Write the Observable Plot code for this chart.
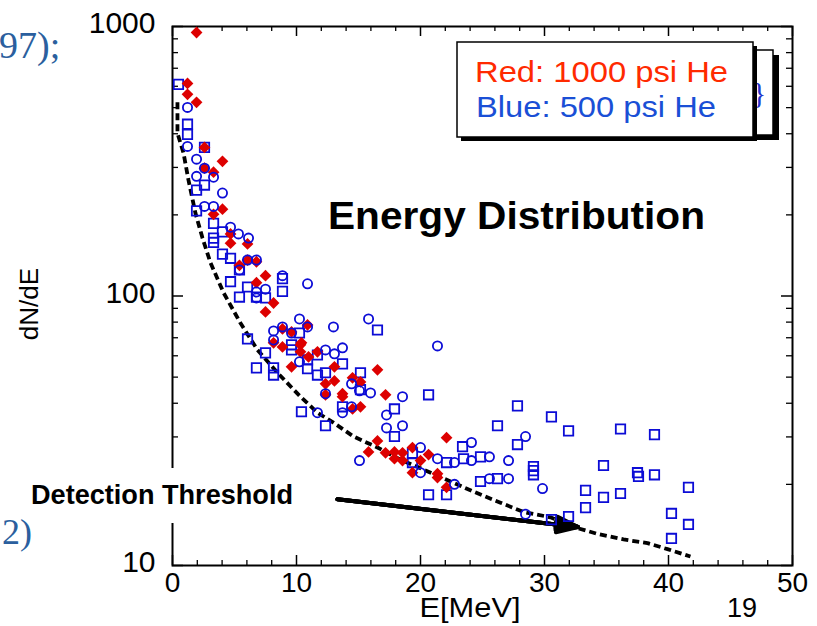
<!DOCTYPE html>
<html>
<head>
<meta charset="utf-8">
<script src="https://cdn.jsdelivr.net/npm/d3@7"></script>
<script src="https://cdn.jsdelivr.net/npm/@observablehq/plot@0.6"></script>
<style>
  html, body { margin: 0; padding: 0; background: #fff; }
  #wrap { position: relative; width: 817px; height: 626px; overflow: hidden; font-family: "Liberation Sans", Arial, sans-serif; }
  #wrap > svg { position: absolute; left: 0; top: 0; }
  #ov { pointer-events: none; }
</style>
</head>
<body>
<div id="wrap"></div>
<script>
// ---- Data ----
// Red diamonds: 1000 psi He
const redE = [1.94,1.21,1.21,1.94,2.58,4.03,2.58,3.31,4.03,3.31,4.68,4.68,6.05,6.05,6.77,5.40,7.50,6.77,8.15,7.50,10.89,8.87,9.60,8.15,8.87,10.32,10.32,10.97,11.69,9.60,13.06,13.06,12.34,14.52,15.16,12.34,13.71,13.71,16.53,17.18,15.16,14.52,22.10,16.53,15.81,17.18,17.90,18.55,19.35,17.90,18.55,20.00,20.65,19.35,21.37,21.37,22.10,10.40];
const redN = [950,615,560,523,356,316,298,288,210,201,170,157,156,136,134,130,119,112,94.2,87.3,78.1,75.5,73.6,67.0,64.7,65.9,62.1,59.4,62.1,54.6,54.6,48.4,47.2,49.7,48.0,43.0,43.4,42.3,53.2,43.0,38.8,38.1,29.8,29.0,26.4,26.2,26.4,26.2,27.4,24.9,24.5,24.5,25.8,22.1,21.9,21.2,19.5,67.0];

// Blue open circles: 500 psi He
const circE = [1.21,1.21,1.94,2.58,1.94,3.31,4.03,2.58,3.31,4.68,5.32,6.13,6.05,6.77,5.40,8.87,10.89,7.50,6.77,6.77,10.24,10.89,12.98,15.81,8.87,8.15,9.60,8.15,12.34,13.71,13.06,10.24,14.44,12.34,21.37,15.08,15.97,18.55,14.44,13.71,11.69,17.26,17.26,18.55,20.00,15.08,21.37,22.74,24.11,24.11,25.56,20.00,22.74,25.56,28.47,27.10,27.10,29.84,28.47];
const circN = [501,359,322,298,278,276,241,215,215,180,170,164,136,136,125,119,111,106,103.5,98.4,82.2,76.8,76.8,82.2,76.8,74.2,72.9,68.7,63.1,64.2,61.0,57.0,47.2,43.4,65.3,44.5,43.7,42.3,38.8,36.9,36.9,36.2,32.4,33.0,27.4,24.5,24.9,24.1,28.6,24.5,25.3,22.1,20.0,21.0,30.1,24.5,21.0,19.3,15.5];

// Blue open squares: 500 psi He
const sqE = [0.48,1.21,1.21,2.58,2.58,1.94,1.94,3.31,4.03,3.31,3.31,4.03,4.68,5.40,8.87,4.68,6.05,8.87,5.40,6.77,7.50,10.24,6.05,16.53,9.60,9.60,7.50,11.69,10.89,13.71,6.77,8.15,10.89,8.15,11.69,12.34,15.16,15.16,13.71,10.40,17.90,20.65,12.34,17.90,19.35,19.35,22.10,23.39,23.47,24.84,26.21,24.84,26.21,20.65,22.10,27.82,30.56,31.94,36.13,38.87,27.82,29.11,29.11,29.11,34.76,37.50,37.58,38.87,33.31,34.76,36.13,41.61,33.31,31.94,30.56,40.24,41.61,40.24];
const sqN = [610,434,398,356,258,247,207,186,173,164,158,143,138,125,116,113,108,104,99.1,99.1,98.4,72.9,69.3,74.8,65.9,63.1,61.5,60.4,57.9,56.0,54.1,54.1,53.7,50.9,50.9,51.9,51.9,44.9,38.8,37.2,38.1,43.0,33.0,30.1,26.0,24.1,24.1,27.6,24.9,25.3,33.0,20.5,21.0,18.3,18.3,39.1,35.6,31.6,32.1,30.6,28.1,23.3,22.5,21.7,23.5,22.1,21.4,21.7,19.0,17.9,18.5,19.5,16.4,15.2,14.8,15.6,14.2,12.6];

// Detection threshold (dashed curve)
const thrE = [0.40,0.40,0.89,1.29,1.85,2.42,3.06,4.11,5.48,6.85,8.47,10.32,11.69,12.98,14.60,16.53,18.39,20.24,22.42,24.27,26.45,28.31,30.48,32.34,34.27,36.37,38.31,39.92,41.77];
const thrN = [523,402,339,269,203,164,133,103,79.4,63.1,51.9,42.3,36.9,33.9,30.1,27.4,24.7,22.7,20.5,18.8,17.1,15.8,15.1,13.9,13.1,12.5,12.1,11.5,10.8];

// Arrow pointing at the threshold curve
const arrowE = [13.3, 32.7];
const arrowN = [17.6, 13.9];

// Ticks
const xMajor = [0,10,20,30,40,50];
const xMinor = [2,4,6,8,12,14,16,18,22,24,26,28,32,34,36,38,42,44,46,48];
const yMajor = [10,100,1000];
const yMinor = [20,30,40,50,60,70,80,90,200,300,400,500,600,700,800,900];

// ---- Build tables ----
const red = redE.map((e,i) => ({E:e, N:redN[i]}));
const circles = circE.map((e,i) => ({E:e, N:circN[i]}));
const squares = sqE.map((e,i) => ({E:e, N:sqN[i]}));
const threshold = thrE.map((e,i) => ({E:e, N:thrN[i]}));
const arrow = [{E1: arrowE[0], N1: arrowN[0], E2: arrowE[1], N2: arrowN[1]}];

const W = 817, H = 626;
const mL = 172, mR = 25, mT = 26, mB = 61;
const fw = W - mL - mR, fh = H - mT - mB;
const BLUE = "#0c0cd6", RED = "#dd0000";

// a filled-looking arrowhead: several arrows with narrowing head angles
const arrowMarks = [40, 30, 20, 10].map(a =>
  Plot.arrow(arrow, {x1: "E1", y1: "N1", x2: "E2", y2: "N2", stroke: "black", strokeWidth: 4, headLength: 8.5, headAngle: a})
);

const chart = Plot.plot({
  width: W, height: H,
  marginLeft: mL, marginRight: mR, marginTop: mT, marginBottom: mB,
  x: {domain: [0, 50]},
  y: {type: "log", domain: [10, 1000]},
  style: {fontFamily: "'Liberation Sans', Arial, sans-serif", background: "transparent", color: "black"},
  marks: [
    // inward ticks (bottom / top)
    Plot.ruleX(xMajor, {insetTop: fh - 10, strokeWidth: 1.5}),
    Plot.ruleX(xMajor, {insetBottom: fh - 10, strokeWidth: 1.5}),
    Plot.ruleX(xMinor, {insetTop: fh - 5, strokeWidth: 1.3}),
    Plot.ruleX(xMinor, {insetBottom: fh - 5, strokeWidth: 1.3}),
    // inward ticks (left / right)
    Plot.ruleY(yMajor, {insetRight: fw - 11, strokeWidth: 1.5}),
    Plot.ruleY(yMajor, {insetLeft: fw - 11, strokeWidth: 1.5}),
    Plot.ruleY(yMinor, {insetRight: fw - 6, strokeWidth: 1.3}),
    Plot.ruleY(yMinor, {insetLeft: fw - 6, strokeWidth: 1.3}),
    Plot.frame({strokeWidth: 2}),
    Plot.axisX({ticks: xMajor, tickSize: 0, tickPadding: 7, fontSize: 28, label: null}),
    Plot.axisY({ticks: yMajor, tickSize: 0, tickPadding: 17, fontSize: 30, label: null, tickFormat: d => String(d), dy: -3}),
    // threshold and arrow
    Plot.line(threshold, {x: "E", y: "N", stroke: "black", strokeWidth: 3.8, strokeDasharray: "7,4", strokeLinecap: "butt"}),
    ...arrowMarks,
    // data
    Plot.dot(squares, {x: "E", y: "N", symbol: "square", r: 5.3, stroke: BLUE, strokeWidth: 1.8, fill: "none"}),
    Plot.dot(red, {x: "E", y: "N", symbol: "diamond2", r: 5.3, fill: RED, stroke: "none"}),
    Plot.dot(circles, {x: "E", y: "N", symbol: "circle", r: 4.6, stroke: BLUE, strokeWidth: 1.8, fill: "none"})
  ]
});
document.getElementById("wrap").appendChild(chart);

// ---- Overlay texts (titles, legend, slide fragments) ----
const ov = `
<svg id="ov" width="817" height="626" xmlns="http://www.w3.org/2000/svg" font-family="'Liberation Sans', Arial, sans-serif">
  <text x="-1" y="58" font-family="'Liberation Serif','Times New Roman',serif" font-size="38" fill="#2b5f9e">97);</text>
  <text x="2" y="544" font-family="'Liberation Serif','Times New Roman',serif" font-size="36" fill="#2b5f9e">2)</text>
  <rect x="28" y="468" width="270" height="55" fill="white"/>
  <text x="31" y="504" font-weight="bold" font-size="27" textLength="262" lengthAdjust="spacingAndGlyphs">Detection Threshold</text>
  <text x="328" y="229" font-weight="bold" font-size="39" textLength="377" lengthAdjust="spacingAndGlyphs">Energy Distribution</text>
  <rect x="476" y="55" width="303" height="85" fill="black"/>
  <rect x="470" y="50" width="303" height="85" fill="white" stroke="black" stroke-width="1.5"/>
  <text x="752" y="103" font-family="'Liberation Serif','Times New Roman',serif" font-size="30" fill="#2233cc">}</text>
  <rect x="461" y="46" width="296" height="95" fill="black"/>
  <rect x="457" y="42" width="296" height="95" fill="white" stroke="black" stroke-width="1.5"/>
  <text x="475" y="82" font-size="30" fill="#ff2a00" textLength="253" lengthAdjust="spacingAndGlyphs">Red: 1000 psi He</text>
  <text x="476" y="117" font-size="30" fill="#1a4fd6" textLength="240" lengthAdjust="spacingAndGlyphs">Blue: 500 psi He</text>
  <text transform="translate(38,304) rotate(-90)" text-anchor="middle" font-size="26">dN/dE</text>
  <text x="470" y="617" text-anchor="middle" font-size="27" textLength="101" lengthAdjust="spacingAndGlyphs">E[MeV]</text>
  <text x="742" y="617" text-anchor="middle" font-size="27">19</text>
</svg>`;
document.getElementById("wrap").insertAdjacentHTML("beforeend", ov);
</script>
</body>
</html>
